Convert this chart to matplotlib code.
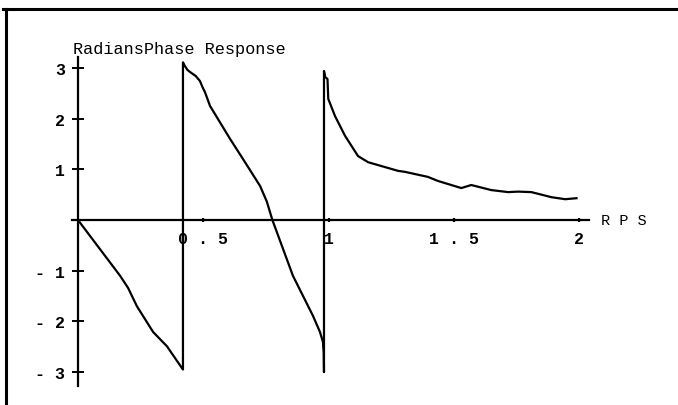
import matplotlib
matplotlib.use("Agg")
import matplotlib.pyplot as plt
from matplotlib.lines import Line2D

# Frequency (radians per second) and wrapped phase (radians)
rps = [0.000, 0.168, 0.200, 0.235, 0.300, 0.355, 0.419,
       0.419, 0.425, 0.437, 0.447, 0.470, 0.487, 0.497, 0.507, 0.527, 0.607,
       0.659, 0.727, 0.754, 0.776, 0.858, 0.938, 0.966, 0.978, 0.981, 0.982,
       0.982, 0.987, 0.996, 0.999, 1.026, 1.066, 1.118, 1.158, 1.277, 1.305,
       1.397, 1.437, 1.530, 1.570, 1.650, 1.717, 1.757, 1.810, 1.890, 1.945,
       1.990]
phase = [0.00, -1.10, -1.34, -1.70, -2.21, -2.49, -2.95,
         3.11, 3.05, 2.96, 2.92, 2.84, 2.74, 2.62, 2.52, 2.25, 1.60,
         1.20, 0.67, 0.36, 0.00, -1.10, -1.89, -2.21, -2.41, -2.60, -3.00,
         2.94, 2.82, 2.78, 2.39, 2.05, 1.66, 1.26, 1.14, 0.97, 0.95,
         0.85, 0.77, 0.63, 0.69, 0.59, 0.55, 0.56, 0.55, 0.45, 0.41,
         0.43]

x_ticks = [0.5, 1.0, 1.5, 2.0]
x_tick_labels = ["0 . 5", "1", "1 . 5", "2"]
y_ticks = [-3, -2, -1, 1, 2, 3]
y_tick_labels = ["- 3", "- 2", "- 1", "1", "2", "3"]

W, H, DPI = 678, 406, 100
FONT = "Liberation Mono"

fig = plt.figure(figsize=(W / DPI, H / DPI), dpi=DPI)
ax = fig.add_axes([0, 0, 1, 1])

# scale: origin at pixel (78, 221), 250.5 px per RPS, 50.7 px per radian
x0, sx = 78, 250.5
y0, sy = 221, 50.7
ax.set_xlim(-x0 / sx, (W - x0) / sx)
ax.set_ylim(-(H - y0) / sy, y0 / sy)

ax.plot(rps, phase, color="black", lw=1.6, solid_joinstyle="round")

for side in ("top", "right"):
    ax.spines[side].set_visible(False)
for side in ("left", "bottom"):
    ax.spines[side].set_position(("data", 0))
    ax.spines[side].set_linewidth(1.6)
ax.spines["left"].set_bounds(-3.27, 3.21)
ax.spines["bottom"].set_bounds(-0.024, 2.04)

ax.set_xticks(x_ticks)
ax.set_xticklabels(x_tick_labels)
ax.set_yticks(y_ticks)
ax.set_yticklabels(y_tick_labels)
ax.tick_params(axis="y", direction="inout", length=9, width=1.4, pad=5,
               labelsize=12)
ax.tick_params(axis="x", direction="inout", length=3.5, width=1.6, pad=6,
               labelsize=12)
for lab in ax.get_xticklabels() + ax.get_yticklabels():
    lab.set_fontfamily(FONT)
    lab.set_fontweight("bold")

fig.text(73 / W, 1 - 54 / H, "RadiansPhase Response", family=FONT,
         fontsize=12.2, va="baseline", ha="left")
fig.text(601 / W, 1 - 221 / H, "R P S", family=FONT, fontsize=11,
         va="center", ha="left")

# page frame (top and left edges)
fig.add_artist(Line2D([3 / W, 1], [1 - 9.5 / H] * 2, color="black", lw=2.2,
                      transform=fig.transFigure))
fig.add_artist(Line2D([6 / W] * 2, [0, 1 - 9.5 / H], color="black", lw=2.2,
                      transform=fig.transFigure))

fig.savefig("out.png", dpi=DPI)
